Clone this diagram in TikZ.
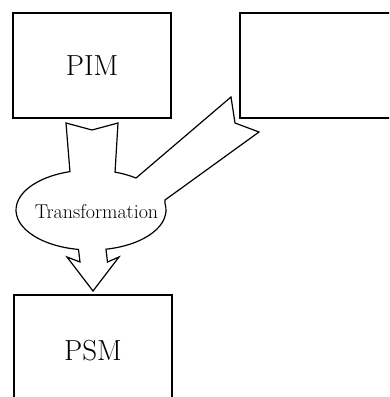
\documentclass[tikz,border=0pt]{standalone}
\usepackage{fontspec}
\usetikzlibrary{calc}

\begin{document}
\begin{tikzpicture}[x=1pt, y=-1pt, line width=1.2pt, line join=miter,
                    box node/.style={rectangle,draw,minimum width=158pt,minimum height=105pt,font=\fontsize{29}{32}\selectfont}]

\clip (0,0) rectangle (389,397);

  \node[box node] (pim) at (92,65.5) {PIM};
  \node[box node, minimum width=162pt] (empty) at (321,65.5) {};
\node[box node, minimum height=112pt] (psm) at (93,351) {PSM};

\coordinate (ell) at (91,210);

% the transformation blob
\draw (66,123) -- (92,130) -- (118,123)
    -- ($(ell)+(-71.3:75 and 40)$) arc[start angle=-71.3, end angle=-53.1, x radius=75, y radius=40]
    -- (231,97) -- (235,123) -- (259,132) -- (165,200)
    -- ($(ell)+(-9.4:75 and 40)$) arc[start angle=-9.4, end angle=78.5, x radius=75, y radius=40]
    -- (107.5,262) -- (119,257) -- (93,291) -- (67,257) -- (80,262)
    -- ($(ell)+(99.6:75 and 40)$) arc[start angle=99.6, end angle=253.7, x radius=75, y radius=40]
    -- cycle;

\node[font=\fontsize{20}{22}\selectfont] (trans) at (96.5,212) {Transformation};

\end{tikzpicture}
\end{document}
